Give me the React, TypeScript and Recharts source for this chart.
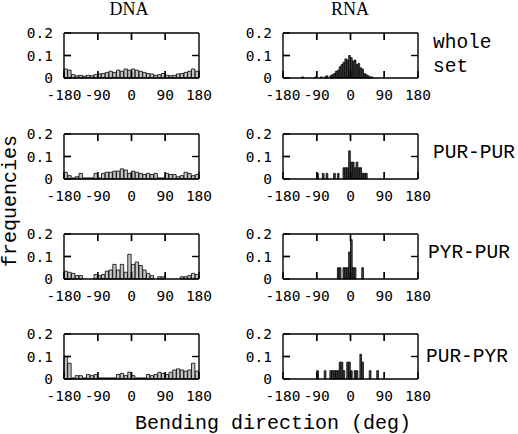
import { BarChart, Bar, XAxis, YAxis, ReferenceLine } from "recharts";

// bending direction bins (deg), 10 deg wide for DNA
const DNA_BINS = [
  -175, -165, -155, -145, -135, -125, -115, -105, -95, -85, -75, -65, -55, -45, -35, -25, -15, -5,
  5, 15, 25, 35, 45, 55, 65, 75, 85, 95, 105, 115, 125, 135, 145, 155, 165, 175,
];

const DNA_WHOLE = [
  0.04, 0.035, 0.015, 0.01, 0.012, 0.008, 0.012, 0.01, 0.015, 0.018, 0.02, 0.025, 0.03, 0.025, 0.035, 0.03, 0.04, 0.035,
  0.04, 0.035, 0.03, 0.025, 0.02, 0.018, 0.012, 0.015, 0.02, 0.012, 0.01, 0.012, 0.018, 0.02, 0.025, 0.03, 0.04, 0.03,
];
const DNA_PURPUR = [
  0.03, 0.015, 0.005, 0.01, 0.025, 0.005, 0.005, 0.005, 0.025, 0.005, 0.025, 0.03, 0.03, 0.035, 0.035, 0.045, 0.04, 0.025,
  0.035, 0.03, 0.025, 0.02, 0.025, 0.02, 0.025, 0.005, 0.005, 0.025, 0.02, 0.02, 0.01, 0.015, 0.03, 0.025, 0.015, 0.02,
];
const DNA_PYRPUR = [
  0.035, 0.03, 0.025, 0.015, 0.015, 0, 0, 0, 0.02, 0.015, 0.02, 0.035, 0.04, 0.065, 0.04, 0.065, 0.03, 0.11,
  0.065, 0.075, 0.06, 0.04, 0.025, 0.015, 0, 0.01, 0.01, 0, 0, 0, 0, 0.01, 0.01, 0.015, 0.025, 0.02,
];
const DNA_PURPYR = [
  0.1, 0.07, 0.005, 0.015, 0.015, 0.005, 0.02, 0.015, 0.02, 0.005, 0.005, 0.005, 0.005, 0.005, 0.02, 0.025, 0.015, 0.03,
  0.015, 0.005, 0.005, 0.005, 0.02, 0.015, 0.02, 0.03, 0.025, 0.02, 0.03, 0.04, 0.045, 0.04, 0.035, 0.04, 0.07, 0.035,
];

// RNA: [bin centre (deg), frequency], 5 deg bins, empty bins left out
const RNA_WHOLE: [number, number][] = [
  [-127.5, 0.005], [-92.5, 0.005], [-77.5, 0.005], [-67.5, 0.005], [-62.5, 0.01], [-52.5, 0.01],
  [-47.5, 0.015], [-42.5, 0.02], [-37.5, 0.03], [-32.5, 0.035], [-27.5, 0.05], [-22.5, 0.06],
  [-17.5, 0.07], [-12.5, 0.085], [-7.5, 0.08], [-2.5, 0.1], [2.5, 0.09], [7.5, 0.075],
  [12.5, 0.08], [17.5, 0.06], [22.5, 0.065], [27.5, 0.045], [32.5, 0.04], [37.5, 0.02],
  [42.5, 0.015], [47.5, 0.01], [52.5, 0.005], [57.5, 0.005],
];
const RNA_PURPUR: [number, number][] = [
  [-87.5, 0.025], [-72.5, 0.025], [-62.5, 0.025], [-42.5, 0.025], [-32.5, 0.025],
  [-17.5, 0.05], [-12.5, 0.05], [-7.5, 0.05], [-2.5, 0.125], [2.5, 0.075], [7.5, 0.075],
  [12.5, 0.05], [17.5, 0.075], [22.5, 0.05], [27.5, 0.05], [32.5, 0.025], [37.5, 0.025], [42.5, 0.025],
];
const RNA_PYRPUR: [number, number][] = [
  [-32.5, 0.05], [-27.5, 0.05], [-17.5, 0.05], [-12.5, 0.05], [-7.5, 0.05],
  [-2.5, 0.12], [2.5, 0.175], [7.5, 0.05], [12.5, 0.05], [32.5, 0.05],
];
const RNA_PURPYR: [number, number][] = [
  [-87.5, 0.037], [-67.5, 0.037], [-52.5, 0.037], [-47.5, 0.037], [-42.5, 0.037], [-37.5, 0.037],
  [-32.5, 0.037], [-27.5, 0.075], [-22.5, 0.075], [-17.5, 0.037], [-7.5, 0.075], [-2.5, 0.075],
  [2.5, 0.037], [12.5, 0.037], [17.5, 0.037], [27.5, 0.11], [32.5, 0.075], [52.5, 0.037], [72.5, 0.037],
];

const COLUMNS = ["DNA", "RNA"];
const ROW_LABELS = [["whole", "set"], ["PUR-PUR"], ["PYR-PUR"], ["PUR-PYR"]];
const X_TICKS = [-180, -90, 0, 90, 180];
const X_INNER = [-90, 0, 90];
const Y_TICKS = [0, 0.1, 0.2];
const Y_INNER = [0.1];

const dnaRows = [DNA_WHOLE, DNA_PURPUR, DNA_PYRPUR, DNA_PURPYR].map((vals) =>
  DNA_BINS.map((deg, i) => ({ deg, freq: vals[i] }))
);
const rnaRows = [RNA_WHOLE, RNA_PURPUR, RNA_PYRPUR, RNA_PURPYR].map((pairs) =>
  pairs.map(([deg, freq]) => ({ deg, freq }))
);

const MONO = "'DejaVu Sans Mono', monospace";
const COURIER = "'Liberation Mono', monospace";
const tickStyle = { fontFamily: MONO, fontSize: 14.5, fill: "#000" };
const noLabel = () => <g />;

// inner tick mark length (~7px) in data units of each axis
const TICK_DY = 0.031;
const TICK_DX = 18.5;

// chart origin = plot origin - (margin + axis size)
const ROW_TOPS = [23, 124, 224, 324];
const COL_LEFTS = [16, 235];

// negative tickSize -> tick marks point into the plot box
function Panel({ data, left, top, fill, barSize }: any) {
  return (
    <div style={{ position: "absolute", left, top }}>
      <BarChart
        width={205}
        height={80}
        data={data}
        margin={{ top: 9, right: 21, bottom: 0, left: 12 }}
        barCategoryGap={0}
        barGap={0}
      >
        <XAxis
          dataKey="deg"
          type="number"
          domain={[-180, 180]}
          ticks={X_TICKS}
          interval={0}
          height={25}
          tickSize={-7}
          tickMargin={19}
          stroke="#000"
          strokeWidth={1.4}
          tick={tickStyle}
        />
        <XAxis xAxisId="top" orientation="top" dataKey="deg" type="number" domain={[-180, 180]} ticks={X_INNER}
          interval={0} height={1} tick={noLabel} tickSize={-7} stroke="#000" strokeWidth={1.4} />
        <YAxis
          domain={[0, 0.2]}
          ticks={Y_TICKS}
          interval={0}
          width={36}
          tickSize={-7}
          tickMargin={18}
          stroke="#000"
          strokeWidth={1.4}
          tick={tickStyle}
          tickFormatter={(v: number) => (v === 0 ? "0" : v.toFixed(1))}
        />
        <YAxis yAxisId="r" orientation="right" domain={[0, 0.2]} ticks={Y_INNER} interval={0} width={1} tick={noLabel}
          tickSize={-7} stroke="#000" strokeWidth={1.4} />
        <Bar dataKey="freq" fill={fill} stroke="#000" strokeWidth={0.8} barSize={barSize} isAnimationActive={false} />
        {X_INNER.map((t) => (
          <ReferenceLine key={"b" + t} ifOverflow="visible" segment={[{ x: t, y: 0 }, { x: t, y: TICK_DY }]}
            stroke="#000" strokeWidth={1.4} />
        ))}
        {X_INNER.map((t) => (
          <ReferenceLine key={"t" + t} ifOverflow="visible" segment={[{ x: t, y: 0.2 }, { x: t, y: 0.2 - TICK_DY }]}
            stroke="#000" strokeWidth={1.4} />
        ))}
        {Y_INNER.map((t) => (
          <ReferenceLine key={"l" + t} ifOverflow="visible" segment={[{ x: -180, y: t }, { x: -180 + TICK_DX, y: t }]}
            stroke="#000" strokeWidth={1.4} />
        ))}
        {Y_INNER.map((t) => (
          <ReferenceLine key={"r" + t} ifOverflow="visible" segment={[{ x: 180, y: t }, { x: 180 - TICK_DX, y: t }]}
            stroke="#000" strokeWidth={1.4} />
        ))}
      </BarChart>
    </div>
  );
}

export default function App() {
  return (
    <div style={{ position: "absolute", left: 0, top: 0, width: 518, height: 434, background: "#fff" }}>
      {dnaRows.map((d, r) => (
        <Panel key={"d" + r} data={d} left={COL_LEFTS[0]} top={ROW_TOPS[r]} fill="#c4c4c4" barSize={3.75} />
      ))}
      {rnaRows.map((d, r) => (
        <Panel key={"r" + r} data={d} left={COL_LEFTS[1]} top={ROW_TOPS[r]} fill="#4a4a4a" barSize={1.9} />
      ))}
      <svg width={518} height={434} style={{ position: "absolute", left: 0, top: 0, pointerEvents: "none" }}>
        <text x={129} y={15} textAnchor="middle" fontFamily="'Liberation Serif', serif" fontSize={18}>{COLUMNS[0]}</text>
        <text x={350} y={15} textAnchor="middle" fontFamily="'Liberation Serif', serif" fontSize={18}>{COLUMNS[1]}</text>
        <text x={433} y={48} fontFamily={COURIER} fontSize={19.5}>{ROW_LABELS[0][0]}</text>
        <text x={433} y={72} fontFamily={COURIER} fontSize={19.5}>{ROW_LABELS[0][1]}</text>
        <text x={433} y={158} fontFamily={COURIER} fontSize={19.5}>{ROW_LABELS[1][0]}</text>
        <text x={428} y={258} fontFamily={COURIER} fontSize={19.5}>{ROW_LABELS[2][0]}</text>
        <text x={426} y={362} fontFamily={COURIER} fontSize={19.5}>{ROW_LABELS[3][0]}</text>
        <text x={16} y={201} textAnchor="middle" transform="rotate(-90 16 201)" fontFamily={COURIER} fontSize={20}>frequencies</text>
        <text x={273} y={429} textAnchor="middle" fontFamily={COURIER} fontSize={20}>Bending direction (deg)</text>
      </svg>
    </div>
  );
}
